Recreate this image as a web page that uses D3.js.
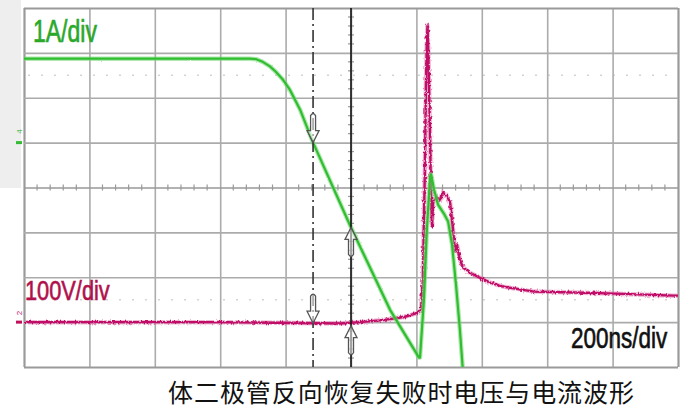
<!DOCTYPE html>
<html><head><meta charset="utf-8">
<script src="https://cdn.jsdelivr.net/npm/d3@7"></script>
<style>
html,body{margin:0;padding:0;background:#fff;}
svg{display:block;}
</style></head>
<body>
<svg id="chart" width="682" height="410"></svg>
<script>
// ---- Data (time in ns, 200 ns/div) ----
const timeTicks = [0,200,400,600,800,1000,1200,1400,1600,1800,2000];
const currentTicks = [-5,-4,-3,-2,-1,0,1,2,3];       // A, 1 A/div
const cursorTimes = [884, 1000];

// Current waveform (A)
const currentT = [0, 691, 710, 730, 752, 770, 790, 813, 844, 884, 1000, 1119, 1208, 1211, 1223, 1232, 1242, 1245, 1254, 1266, 1284, 1297, 1309, 1321, 1333, 1342];
const currentA = [1.87, 1.87, 1.86, 1.80, 1.70, 1.58, 1.42, 1.18, 0.74, 0.00, -1.89, -3.72, -4.79, -4.79, -3.50, -1.94, -0.76, -0.71, -1.05, -1.38, -1.58, -1.76, -2.27, -3.16, -4.17, -5.06];

// Voltage waveform (V)
const voltageT = [0, 300, 600, 966, 1027, 1089, 1131, 1165, 1196, 1214, 1220, 1223, 1226, 1229, 1232, 1234, 1237, 1242, 1245, 1248, 1251, 1263, 1272, 1281, 1294, 1303, 1312, 1318, 1324, 1333, 1342, 1364, 1394, 1425, 1465, 1517, 1560, 1682, 1786, 1988, 2000];
const voltageV = [0, 0, 0, -3, 0, 4, 8, 12, 19, 26, 95, 229, 340, 518, 630, 663, 585, 407, 273, 213, 267, 278, 273, 289, 280, 267, 206, 157, 173, 140, 122, 110, 99, 88, 79, 73, 68, 66, 64, 59, 59];

// ---- Layout ----
const L = 24, R = 678, T = 8, B = 367;
const svg = d3.select("#chart");

const x = d3.scaleLinear().domain([0, 2000]).range([L, R]);
const yI = d3.scaleLinear().domain([-5, 3]).range([B, T]);     // 1 A/div
const yV = d3.scaleLinear().domain([-100, 700]).range([B, T]); // 100 V/div

const defs = svg.append("defs");
const f1 = defs.append("filter").attr("id","noiseV").attr("filterUnits","userSpaceOnUse")
  .attr("x",0).attr("y",0).attr("width",682).attr("height",410);
f1.append("feTurbulence").attr("type","fractalNoise").attr("baseFrequency","0.6 0.3")
  .attr("numOctaves",2).attr("seed",5).attr("result","n");
f1.append("feDisplacementMap").attr("in","SourceGraphic").attr("in2","n")
  .attr("scale",3.5).attr("xChannelSelector","R").attr("yChannelSelector","G");
const f2 = defs.append("filter").attr("id","noiseI").attr("filterUnits","userSpaceOnUse")
  .attr("x",0).attr("y",0).attr("width",682).attr("height",410);
f2.append("feTurbulence").attr("type","fractalNoise").attr("baseFrequency","0.8 0.4")
  .attr("numOctaves",1).attr("seed",9).attr("result","n");
f2.append("feDisplacementMap").attr("in","SourceGraphic").attr("in2","n")
  .attr("scale",2).attr("xChannelSelector","R").attr("yChannelSelector","G");

// background strip at left
svg.append("rect").attr("x",0).attr("y",0).attr("width",21).attr("height",188).attr("fill","#eeeeee");
svg.append("rect").attr("x",L).attr("y",T).attr("width",R-L).attr("height",B-T).attr("fill","#fff");

// faint dotted rows
[1.5, -3.5].forEach(v => {
  svg.append("line").attr("x1",L+4).attr("x2",R-4).attr("y1",yI(v)).attr("y2",yI(v))
    .attr("stroke","#d4d4d4").attr("stroke-width",1.5).attr("stroke-dasharray","2,11");
});

// grid via axes
const gx = svg.append("g").attr("transform",`translate(0,${B})`)
  .call(d3.axisBottom(x).tickValues(timeTicks).tickSize(-(B-T)).tickFormat(""));
const gy = svg.append("g").attr("transform",`translate(${L},0)`)
  .call(d3.axisLeft(yI).tickValues(currentTicks).tickSize(-(R-L)).tickFormat(""));
[gx, gy].forEach(g => {
  g.select(".domain").remove();
  g.selectAll(".tick line").attr("stroke","#ababab").attr("stroke-width",1.6);
});
gx.selectAll(".tick line").filter(d => d===0 || d===2000).attr("stroke","#9a9a9a").attr("stroke-width",2.2);
gy.selectAll(".tick line").filter(d => d===-5 || d===3).attr("stroke","#9a9a9a").attr("stroke-width",2.2);
gy.selectAll(".tick line").filter(d => d===-1).attr("stroke","#999");

// minor ticks on center lines
const cy = yI(-1), cx = x(1000);
const minorT = d3.range(40, 2000, 40).filter(t => t % 200 !== 0);
svg.append("g").selectAll("line").data(minorT).join("line")
  .attr("x1", d => x(d)).attr("x2", d => x(d)).attr("y1", cy-3).attr("y2", cy+3)
  .attr("stroke","#999").attr("stroke-width",1.2);
const minorY = d3.range(-4.8, 3, 0.2).filter(v => Math.abs(v - Math.round(v)) > 0.01);
svg.append("g").selectAll("line").data(minorY).join("line")
  .attr("x1", cx-3).attr("x2", cx+3).attr("y1", d => yI(d)).attr("y2", d => yI(d))
  .attr("stroke","#999").attr("stroke-width",1.2);

// channel markers on left
svg.append("rect").attr("x",16).attr("y",yI(0)-1.5).attr("width",6).attr("height",3).attr("fill","#33bb33");
svg.append("text").attr("transform",`translate(22,${yI(0)-9}) rotate(-90)`).attr("font-size",8)
  .attr("font-family","Liberation Sans, Arial, sans-serif").attr("fill","#55bb55").text("4");
svg.append("rect").attr("x",16).attr("y",yV(0)-1.5).attr("width",6).attr("height",3).attr("fill","#c0105a");
svg.append("text").attr("transform",`translate(22,${yV(0)-7}) rotate(-90)`).attr("font-size",8)
  .attr("font-family","Liberation Sans, Arial, sans-serif").attr("fill","#c0106a").text("2");

// clip to plot
defs.append("clipPath").attr("id","plotClip").append("rect")
  .attr("x",L).attr("y",T).attr("width",R-L).attr("height",B-T);

const vData = voltageT.map((t,i) => [t, voltageV[i]]);
const iData = currentT.map((t,i) => [t, currentA[i]]);
const lineV = d3.line().x(d => x(d[0])).y(d => yV(d[1]));
const lineI = d3.line().x(d => x(d[0])).y(d => yI(d[1]));

const plot = svg.append("g").attr("clip-path","url(#plotClip)");

// voltage trace
plot.append("path").attr("d", lineV(vData)).attr("fill","none")
  .attr("stroke","#e070a8").attr("stroke-width",4.5).attr("stroke-opacity",0.5)
  .attr("filter","url(#noiseV)");
plot.append("path").attr("d", lineV(vData)).attr("fill","none")
  .attr("stroke","#c01068").attr("stroke-width",2.4).attr("stroke-linejoin","round")
  .attr("filter","url(#noiseV)");

// current trace
plot.append("path").attr("d", lineI(iData)).attr("fill","none")
  .attr("stroke","#7ad87a").attr("stroke-width",4.5).attr("stroke-opacity",0.6)
  .attr("stroke-linejoin","round").attr("filter","url(#noiseI)");
plot.append("path").attr("d", lineI(iData)).attr("fill","none")
  .attr("stroke","#30bd30").attr("stroke-width",2.2).attr("stroke-linejoin","round");

// cursors
svg.append("line").attr("x1",x(cursorTimes[0])).attr("x2",x(cursorTimes[0])).attr("y1",T).attr("y2",B)
  .attr("stroke","#333").attr("stroke-width",1.6).attr("stroke-dasharray","12,4,2,4");
svg.append("line").attr("x1",x(cursorTimes[1])).attr("x2",x(cursorTimes[1])).attr("y1",T).attr("y2",B)
  .attr("stroke","#111").attr("stroke-width",1.6);

function interp(ts, vs, t){
  const i = d3.bisectRight(ts, t);
  if (i <= 0) return vs[0];
  if (i >= ts.length) return vs[vs.length-1];
  const a = (t - ts[i-1])/(ts[i]-ts[i-1]);
  return vs[i-1] + a*(vs[i]-vs[i-1]);
}
const arrowPath = "M0,0 L-6,-12 L-2.5,-12 L-2.5,-27 Q0,-31 2.5,-27 L2.5,-12 L6,-12 Z";
function arrow(px, py, up){
  svg.append("path").attr("d", arrowPath)
    .attr("transform", `translate(${px},${py}) scale(1,${up?-1:1})`)
    .attr("fill","#fff").attr("fill-opacity",0.55).attr("stroke","#555").attr("stroke-width",1.3);
}
arrow(x(cursorTimes[0]), yI(interp(currentT,currentA,cursorTimes[0])), false);
arrow(x(cursorTimes[0]), yV(interp(voltageT,voltageV,cursorTimes[0])), false);
arrow(x(cursorTimes[1]), yI(interp(currentT,currentA,cursorTimes[1])), true);
arrow(x(cursorTimes[1]), yV(interp(voltageT,voltageV,cursorTimes[1]))+3, true);

// labels (narrow, tall lettering, like scope annotation)
const sans = "'Liberation Sans', Arial, sans-serif";
function label(txt, px, py, size, sy, color){
  svg.append("text").attr("transform",`translate(${px},${py}) scale(1,${sy})`)
    .attr("font-family",sans).attr("font-size",size).attr("fill",color)
    .attr("stroke",color).attr("stroke-width",0.5).text(txt);
}
label("1A/div", 33, 42, 23, 1.33, "#2aa82a");
label("100V/div", 25, 300, 21.8, 1.28, "#b0104c");
label("200ns/div", 571, 348, 22.5, 1.3, "#111");
svg.append("text").attr("x",168).attr("y",402).attr("font-family","'Noto Sans CJK SC', sans-serif")
  .attr("font-size",25).attr("textLength",466).attr("lengthAdjust","spacing").attr("fill","#111")
  .text("体二极管反向恢复失败时电压与电流波形");
</script>
</body></html>
